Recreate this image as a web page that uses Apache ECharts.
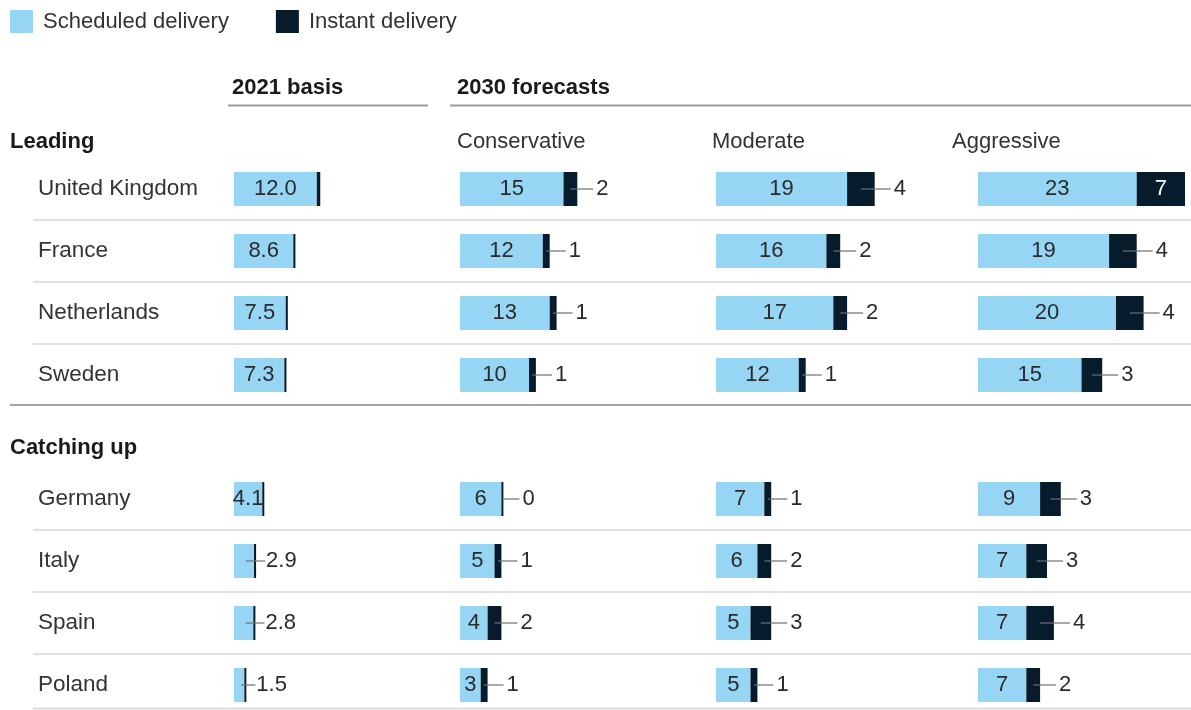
<!DOCTYPE html>
<html>
<head>
<meta charset="utf-8">
<script src="https://cdn.jsdelivr.net/npm/echarts@6/dist/echarts.min.js"></script>
<style>
  html, body { margin: 0; padding: 0; background: #ffffff; }
  #chart { width: 1191px; height: 710px; }
</style>
</head>
<body>
<div id="chart"></div>
<script>
// Markets, grouped by maturity
const leadingMarkets = ['United Kingdom', 'France', 'Netherlands', 'Sweden'];
const catchingUpMarkets = ['Germany', 'Italy', 'Spain', 'Poland'];

// Scenario headings
const basisHeading = '2021 basis';
const forecastHeading = '2030 forecasts';
const scenarioLabels = ['Conservative', 'Moderate', 'Aggressive'];
const groupLabels = ['Leading', 'Catching up'];
const seriesNames = ['Scheduled delivery', 'Instant delivery'];

// Values per market (leading markets first, then catching-up markets)
const basisScheduled = [12.0, 8.6, 7.5, 7.3, 4.1, 2.9, 2.8, 1.5];
const basisInstant = [0.5, 0.3, 0.3, 0.3, 0.1, 0.3, 0.3, 0.2];
const conservativeScheduled = [15, 12, 13, 10, 6, 5, 4, 3];
const conservativeInstant = [2, 1, 1, 1, 0, 1, 2, 1];
const moderateScheduled = [19, 16, 17, 12, 7, 6, 5, 5];
const moderateInstant = [4, 2, 2, 1, 1, 2, 3, 1];
const aggressiveScheduled = [23, 19, 20, 15, 9, 7, 7, 7];
const aggressiveInstant = [7, 4, 4, 3, 3, 3, 4, 2];

const FONT = "'Liberation Sans', Arial, sans-serif";
const LIGHT = '#96d6f4';
const DARK = '#061c2c';
const TEXT = '#2b2b2b';
const FS = 22;

// Category slots: the empty slot holds the "Catching up" group heading
const rows = [...leadingMarkets, '', ...catchingUpMarkets];
const spacer = leadingMarkets.length;
const slotIndex = (i) => (i < spacer ? i : i + 1);

const columns = [
  { mode: 'basis', left: 234, scheduled: basisScheduled, instant: basisInstant },
  { mode: 'forecast', left: 460, scheduled: conservativeScheduled, instant: conservativeInstant },
  { mode: 'forecast', left: 716, scheduled: moderateScheduled, instant: moderateInstant },
  { mode: 'forecast', left: 978, scheduled: aggressiveScheduled, instant: aggressiveInstant }
];

const GRID_TOP = 158;
const GRID_HEIGHT = 62 * rows.length;
const AXIS_MAX = 30;
const GRID_WIDTH = 207;

const grids = [];
const xAxes = [];
const yAxes = [];
const series = [];

function toSlots(values, mapFn) {
  const out = new Array(rows.length).fill(null);
  values.forEach((v, i) => { out[slotIndex(i)] = mapFn ? mapFn(v, i) : v; });
  return out;
}

// Leader line + value text drawn next to the bars
function leaderRenderer(mode) {
  return function (params, api) {
    const s = api.value(0);
    const v = api.value(1);
    const row = api.value(2);
    const y = api.coord([0, row])[1];
    const xStart = api.coord([s, row])[0];
    const xEnd = Math.max(api.coord([s + v, row])[0], xStart + 2);
    const lineStyle = { stroke: '#6f6f6f', lineWidth: 1.2 };
    const textBase = { fontSize: FS, fontFamily: FONT, verticalAlign: 'middle' };
    if (mode === 'basis') {
      if (s >= 4) return null;
      const x1 = api.coord([s / 2, row])[0] + 2;
      const x2 = xEnd + 9;
      return {
        type: 'group',
        children: [
          { type: 'line', shape: { x1: x1, y1: y, x2: x2, y2: y }, style: lineStyle },
          { type: 'text', style: Object.assign({ text: s.toFixed(1), x: x2 + 1, y: y, fill: TEXT, align: 'left' }, textBase) }
        ]
      };
    }
    if (v >= 5) {
      return {
        type: 'text',
        style: Object.assign({ text: String(v), x: (xStart + xEnd) / 2, y: y, fill: '#ffffff', align: 'center' }, textBase)
      };
    }
    const x1 = (xStart + xEnd) / 2;
    const x2 = xEnd + 16;
    return {
      type: 'group',
      children: [
        { type: 'line', shape: { x1: x1, y1: y, x2: x2, y2: y }, style: lineStyle },
        { type: 'text', style: Object.assign({ text: String(v), x: x2 + 3, y: y, fill: TEXT, align: 'left' }, textBase) }
      ]
    };
  };
}

columns.forEach((col, c) => {
  grids.push({ left: col.left, top: GRID_TOP, width: GRID_WIDTH, height: GRID_HEIGHT, containLabel: false, outerBoundsMode: 'none' });
  xAxes.push({ type: 'value', gridIndex: c, min: 0, max: AXIS_MAX, show: false });
  yAxes.push({ type: 'category', gridIndex: c, data: rows, inverse: true, show: false });

  series.push({
    name: seriesNames[0],
    type: 'bar',
    xAxisIndex: c,
    yAxisIndex: c,
    stack: 'col' + c,
    barWidth: 34,
    itemStyle: { color: LIGHT },
    label: {
      show: true,
      position: 'inside',
      color: TEXT,
      fontSize: FS,
      fontFamily: FONT,
      formatter: (p) => (col.mode === 'basis' ? Number(p.value).toFixed(1) : String(p.value))
    },
    data: toSlots(col.scheduled, (v) =>
      col.mode === 'basis' && v < 4 ? { value: v, label: { show: false } } : v)
  });

  series.push({
    name: seriesNames[1],
    type: 'bar',
    xAxisIndex: c,
    yAxisIndex: c,
    stack: 'col' + c,
    barWidth: 34,
    barMinHeight: 2,
    itemStyle: { color: DARK },
    data: toSlots(col.instant)
  });

  const leaderData = [];
  col.scheduled.forEach((s, i) => leaderData.push([s, col.instant[i], slotIndex(i)]));
  series.push({
    type: 'custom',
    xAxisIndex: c,
    yAxisIndex: c,
    z: 5,
    silent: true,
    encode: { x: 0, y: 2 },
    renderItem: leaderRenderer(col.mode),
    data: leaderData
  });
});

// Full-width grid carrying market names and row separators
const bgIndex = columns.length;
const separatorSlots = [1, 2, 3, spacer + 2, spacer + 3, spacer + 4];
grids.push({ left: 33, top: GRID_TOP, width: 1158, height: GRID_HEIGHT, containLabel: false, outerBoundsMode: 'none' });
xAxes.push({ type: 'value', gridIndex: bgIndex, min: 0, max: 1, show: false });
yAxes.push({
  type: 'category',
  gridIndex: bgIndex,
  data: rows,
  inverse: true,
  axisLine: { show: false },
  axisTick: { show: false },
  axisLabel: { show: true, inside: true, margin: 5, color: '#333333', fontSize: 22.5, fontFamily: FONT },
  splitLine: {
    show: true,
    interval: (idx) => separatorSlots.indexOf(idx) !== -1,
    lineStyle: { color: '#d6d6d6', width: 1.5 }
  }
});

const headingStyle = { fontSize: FS, fontWeight: 'bold', fontFamily: FONT, fill: '#1a1a1a', verticalAlign: 'top' };
const subStyle = { fontSize: FS, fontFamily: FONT, fill: '#333333', verticalAlign: 'top' };

const graphic = [
  { type: 'text', left: 232, top: 77, style: Object.assign({ text: basisHeading }, headingStyle) },
  { type: 'text', left: 457, top: 77, style: Object.assign({ text: forecastHeading }, headingStyle) },
  { type: 'text', left: 10, top: 131, style: Object.assign({ text: groupLabels[0] }, headingStyle) },
  { type: 'text', left: 10, top: 437, style: Object.assign({ text: groupLabels[1] }, headingStyle) },
  { type: 'text', left: 457, top: 131, style: Object.assign({ text: scenarioLabels[0] }, subStyle) },
  { type: 'text', left: 712, top: 131, style: Object.assign({ text: scenarioLabels[1] }, subStyle) },
  { type: 'text', left: 952, top: 131, style: Object.assign({ text: scenarioLabels[2] }, subStyle) },
  { type: 'line', shape: { x1: 228, y1: 105.5, x2: 428, y2: 105.5 }, style: { stroke: '#9c9c9c', lineWidth: 2 } },
  { type: 'line', shape: { x1: 450, y1: 105.5, x2: 1191, y2: 105.5 }, style: { stroke: '#9c9c9c', lineWidth: 2 } },
  { type: 'line', shape: { x1: 10, y1: 405, x2: 1191, y2: 405 }, style: { stroke: '#a5a5a5', lineWidth: 2 } },
  { type: 'line', shape: { x1: 33, y1: 708.5, x2: 1191, y2: 708.5 }, style: { stroke: '#d6d6d6', lineWidth: 1.5 } }
];

const chart = echarts.init(document.getElementById('chart'), null, { renderer: 'canvas' });
chart.setOption({
  animation: false,
  backgroundColor: '#ffffff',
  legend: {
    left: 10,
    top: 10,
    padding: 0,
    icon: 'rect',
    itemWidth: 23,
    itemHeight: 23,
    itemGap: 47,
    selectedMode: false,
    data: seriesNames,
    textStyle: { fontSize: 22, color: '#333333', fontFamily: FONT, padding: [0, 0, 0, 5] }
  },
  grid: grids,
  xAxis: xAxes,
  yAxis: yAxes,
  series: series,
  graphic: graphic
});
</script>
</body>
</html>
